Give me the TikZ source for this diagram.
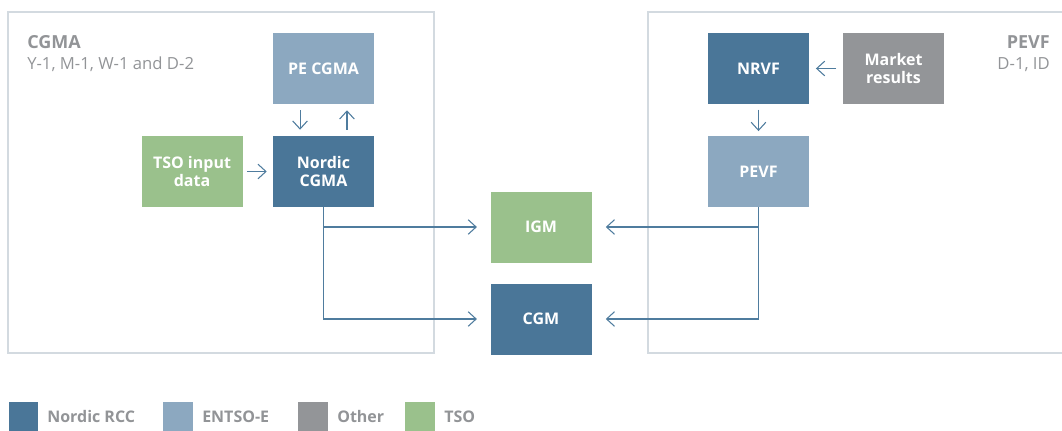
\documentclass[tikz,border=0pt]{standalone}
\usepackage{fontspec}
\setmainfont{Open Sans}
\usetikzlibrary{arrows.meta}
\definecolor{rccblue}{HTML}{4A7698}
\definecolor{entsoblue}{HTML}{8CA8C0}
\definecolor{othergray}{HTML}{939598}
\definecolor{tsogreen}{HTML}{9AC18C}
\definecolor{framegray}{HTML}{D3DAE0}
\definecolor{labelgray}{HTML}{929497}
\definecolor{flowblue}{HTML}{4F7C9E}
\begin{document}
\begin{tikzpicture}[x=0.75pt,y=-0.75pt,
    box/.style={minimum width=75.75pt,minimum height=53.25pt,inner sep=0pt,
      text=white,align=center,font=\fontsize{12}{13}\selectfont\bfseries},
    rccbox/.style={box,fill=rccblue},
    entsobox/.style={box,fill=entsoblue},
    otherbox/.style={box,fill=othergray},
    tsobox/.style={box,fill=tsogreen},
    flow/.style={draw=flowblue,line width=0.8pt,
      -{Straight Barb[length=6pt,width=11pt,line width=0.8pt]}},
    frame/.style={draw=framegray,line width=1.2pt},
    areatitle/.style={text=labelgray,inner sep=0pt,font=\fontsize{13.5}{15}\selectfont\bfseries},
    areasub/.style={text=labelgray,inner sep=0pt,font=\fontsize{12.5}{14}\selectfont},
    keybox/.style={minimum size=22pt,inner sep=0pt},
    keytext/.style={text=labelgray,inner sep=0pt,anchor=west,font=\fontsize{12}{14}\selectfont\bfseries}]
    \useasboundingbox (0,0) rectangle (1062,431);

    % area frames
    \draw[frame] (8,12) rectangle (434,353);
    \draw[frame] (1064,12) -- (648,12) -- (648,353) -- (1064,353);

    \node[areatitle,anchor=base west] (cgmatitle) at (27,49) {CGMA};
    \node[areasub,anchor=base west] (cgmasub) at (27,70) {Y-1, M-1, W-1 and D-2};
    \node[areatitle,anchor=base east] (pevftitle) at (1050,49) {PEVF};
    \node[areasub,anchor=base east] (pevfsub) at (1050,70) {D-1, ID};

    % boxes
    \node[entsobox] (pecgma) at (323.5,68.5) {PE CGMA};
    \node[rccbox] (nordic) at (323.5,171.5) {Nordic\\CGMA};
    \node[tsobox] (tsoin) at (192,171.5) {TSO input\\data};
    \node[rccbox] (nrvf) at (758.5,68.5) {NRVF};
    \node[otherbox] (market) at (893.5,68.5) {Market\\results};
    \node[entsobox] (pevf) at (758.5,171.5) {PEVF};
    \node[tsobox] (igm) at (541,227) {IGM};
    \node[rccbox] (cgm) at (541,319) {CGM};

    % flows
    \draw[flow,shorten <=4.5pt,shorten >=4.5pt] ([xshift=-17.6pt]pecgma.south) -- ([xshift=-17.6pt]nordic.north);
    \draw[flow,shorten <=4.5pt,shorten >=4.5pt] ([xshift=17.6pt]nordic.north) -- ([xshift=17.6pt]pecgma.south);
    \draw[flow,shorten <=3pt,shorten >=4.5pt] (tsoin) -- (nordic);
    \draw[flow,shorten <=5pt,shorten >=5pt] (market) -- (nrvf);
    \draw[flow,shorten <=4pt,shorten >=3.5pt] (nrvf) -- (pevf);
    \draw[flow,shorten >=10pt] (nordic.south) |- (igm.west);
    \draw[flow,shorten >=10pt] (nordic.south) |- (cgm.west);
    \draw[flow,shorten >=10.5pt] (pevf.south) |- (igm.east);
    \draw[flow,shorten >=10.5pt] (pevf.south) |- (cgm.east);

    % legend
    \node[keybox,fill=rccblue] (keyrcc) at (23.5,416.5) {};
    \node[keytext] at (47,416.5) {Nordic RCC};
    \node[keybox,fill=entsoblue] (keyentso) at (178,416.5) {};
    \node[keytext] at (202,416.5) {ENTSO-E};
    \node[keybox,fill=othergray] (keyother) at (313,416.5) {};
    \node[keytext] at (337,416.5) {Other};
    \node[keybox,fill=tsogreen] (keytso) at (420,416.5) {};
    \node[keytext] at (444,416.5) {TSO};
\end{tikzpicture}
\end{document}
